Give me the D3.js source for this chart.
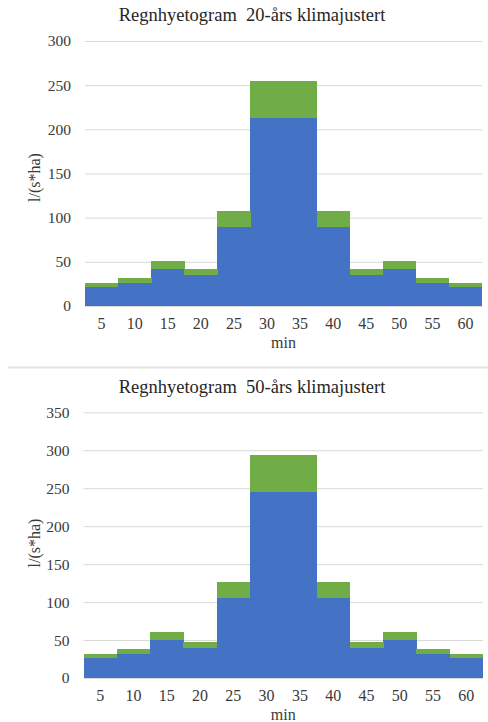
<!DOCTYPE html>
<html><head><meta charset="utf-8">
<script src="https://cdn.jsdelivr.net/npm/d3@7"></script>
<style>
html,body{margin:0;padding:0;background:#fff;}
svg{display:block;}
</style></head>
<body>
<svg id="c" width="488" height="722"></svg>
<script>
const categories = ["5","10","15","20","25","30","35","40","45","50","55","60"];
const blue20  = [21.8, 26.4, 42.2, 34.7, 89.8, 212.5, 212.5, 89.8, 34.7, 42.2, 26.4, 21.8];
const green20 = [4.4, 5.3, 8.5, 7.0, 18.0, 42.5, 42.5, 18.0, 7.0, 8.5, 5.3, 4.4];
const blue50  = [26, 31.5, 50, 40, 105, 245, 245, 105, 40, 50, 31.5, 26];
const green50 = [5.2, 6.3, 10, 8, 21, 49, 49, 21, 8, 10, 6.3, 5.2];
const ticks20 = [0, 50, 100, 150, 200, 250, 300];
const ticks50 = [0, 50, 100, 150, 200, 250, 300, 350];
const title20 = "Regnhyetogram  20-års klimajustert";
const title50 = "Regnhyetogram  50-års klimajustert";
const xTitle = "min";
const yTitle = "l/(s*ha)";
const seriesColors = ["#4472C4", "#70AD47"];
const FONT = "Liberation Serif";

const svg = d3.select("#c");

function drawChart(opt) {
  const g = svg.append("g");
  const x = d3.scaleBand().domain(categories).range([opt.x0, opt.x1]).padding(0);
  const y = d3.scaleLinear().domain([0, d3.max(opt.ticks)]).range([opt.yb, opt.yt]);

  const yAxis = d3.axisLeft(y).tickValues(opt.ticks).tickSize(-(opt.x1 - opt.x0)).tickPadding(14);
  const ga = g.append("g").attr("transform", `translate(${opt.x0},0)`).call(yAxis)
    .attr("font-family", FONT).attr("font-size", 15.5);
  ga.select(".domain").remove();
  ga.selectAll(".tick line").attr("stroke", "#d9d9d9").attr("stroke-width", 1);
  ga.selectAll(".tick text").attr("fill", "#3a3a3a");

  const rows = categories.map((c, i) => ({cat: c, blue: opt.blue[i], green: opt.green[i]}));
  const stack = d3.stack().keys(["blue", "green"])(rows);
  g.selectAll("g.series").data(stack).join("g").attr("class", "series")
    .attr("fill", (d, i) => seriesColors[i])
    .selectAll("rect").data(d => d).join("rect")
    .attr("x", d => x(d.data.cat))
    .attr("width", x.bandwidth() + 0.4)
    .attr("y", d => y(d[1]))
    .attr("height", d => y(d[0]) - y(d[1]))
    .attr("shape-rendering", "crispEdges");

  const xAxis = d3.axisBottom(x).tickSize(0).tickPadding(0);
  const gx = g.append("g").attr("transform", `translate(0,${opt.xLabY})`).call(xAxis)
    .attr("font-family", FONT).attr("font-size", 16);
  gx.select(".domain").remove();
  gx.selectAll(".tick text").attr("fill", "#3a3a3a").attr("dy", 0);

  g.append("text").attr("x", opt.titleX).attr("y", opt.titleY).attr("text-anchor", "middle")
    .attr("font-family", FONT).attr("font-size", 18.5).attr("fill", "#262626")
    .attr("xml:space", "preserve").style("white-space", "pre").text(opt.title);
  g.append("text").attr("x", (opt.x0 + opt.x1) / 2).attr("y", opt.minY).attr("text-anchor", "middle")
    .attr("font-family", FONT).attr("font-size", 16).attr("fill", "#3a3a3a").text(xTitle);
  g.append("text").attr("transform", `translate(${opt.yTitleX},${opt.yTitleY}) rotate(-90)`)
    .attr("font-family", FONT).attr("text-anchor", "middle").attr("font-size", 16)
    .attr("fill", "#3a3a3a").text(yTitle);
}

drawChart({blue: blue20, green: green20, ticks: ticks20, title: title20,
  x0: 85, x1: 482, yb: 306, yt: 41, xLabY: 328.5, minY: 347.5, titleX: 252, titleY: 21,
  yTitleX: 40, yTitleY: 177.5});

svg.append("line").attr("x1", 8).attr("x2", 488).attr("y1", 367.5).attr("y2", 367.5)
  .attr("stroke", "#e3e3e3").attr("stroke-width", 2);

drawChart({blue: blue50, green: green50, ticks: ticks50, title: title50,
  x0: 83.5, x1: 483, yb: 678, yt: 412.3, xLabY: 701, minY: 720, titleX: 252, titleY: 393,
  yTitleX: 40, yTitleY: 543});
</script>
</body></html>
